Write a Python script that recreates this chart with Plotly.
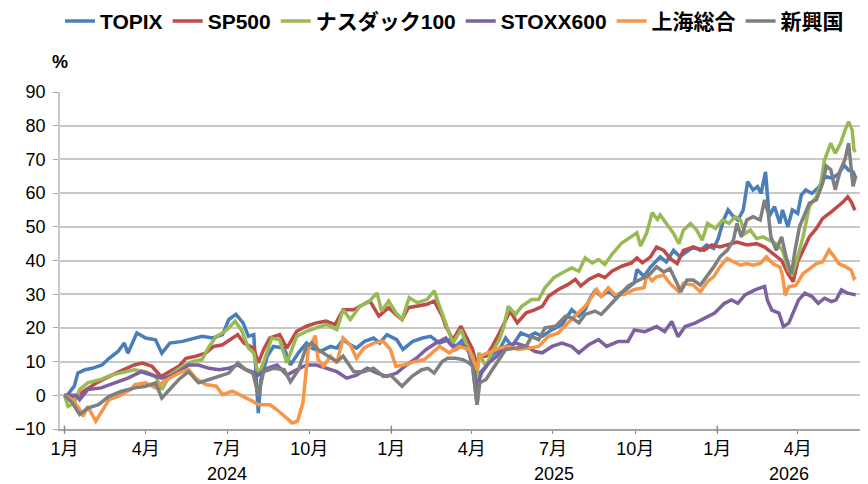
import plotly.graph_objects as go

# values (% change since start of 2024)
topix_dates = ["2024-01-01", "2024-01-04", "2024-01-12", "2024-01-16", "2024-01-24", "2024-02-01", "2024-02-12",
               "2024-02-20", "2024-03-01", "2024-03-08", "2024-03-12", "2024-03-22", "2024-04-01", "2024-04-12",
               "2024-04-19", "2024-04-28", "2024-05-12", "2024-05-23", "2024-06-03", "2024-06-15", "2024-06-26",
               "2024-07-03", "2024-07-11", "2024-07-19", "2024-07-25", "2024-07-31", "2024-08-05", "2024-08-08",
               "2024-08-15", "2024-08-22", "2024-09-03", "2024-09-10", "2024-09-19", "2024-09-28", "2024-10-04",
               "2024-10-13", "2024-10-25", "2024-11-01", "2024-11-08", "2024-11-16", "2024-11-23", "2024-12-02",
               "2024-12-12", "2024-12-19", "2024-12-27", "2025-01-07", "2025-01-14", "2025-01-25", "2025-02-05",
               "2025-02-14", "2025-02-24", "2025-03-07", "2025-03-14", "2025-03-22", "2025-03-29", "2025-04-02",
               "2025-04-07", "2025-04-10", "2025-04-17", "2025-04-24", "2025-05-02", "2025-05-09", "2025-05-16",
               "2025-05-26", "2025-06-04", "2025-06-11", "2025-06-19", "2025-06-30", "2025-07-11", "2025-07-22",
               "2025-07-30", "2025-08-06", "2025-08-12", "2025-08-17", "2025-08-24", "2025-09-01", "2025-09-08",
               "2025-09-19", "2025-09-30", "2025-10-03", "2025-10-11", "2025-10-18", "2025-10-29", "2025-11-05",
               "2025-11-13", "2025-11-20", "2025-11-28", "2025-12-05", "2025-12-13", "2025-12-20", "2025-12-28",
               "2026-01-02", "2026-01-08", "2026-01-13", "2026-01-19", "2026-01-24", "2026-01-30", "2026-02-04",
               "2026-02-10", "2026-02-15", "2026-02-19", "2026-02-24", "2026-02-28", "2026-03-06", "2026-03-12",
               "2026-03-15", "2026-03-21", "2026-03-26", "2026-04-01", "2026-04-05", "2026-04-10", "2026-04-17",
               "2026-04-25", "2026-05-02", "2026-05-10", "2026-05-17", "2026-05-23", "2026-05-28", "2026-06-02",
               "2026-06-05"]
topix_vals = [0, 0, 2.7, 6.6, 7.6, 8, 9, 11, 13, 15.5, 12.5, 18.5, 17, 16.5, 12.5, 15.5, 16, 16.7, 17.5, 17, 18,
              22.5, 24, 21.5, 17.5, 18, -5.3, 4.7, 11.6, 14.5, 14, 9, 12.6, 15.5, 14, 13, 14.5, 14, 16.5, 15, 14,
              16, 17, 15.5, 18, 16.5, 13.6, 16, 17, 17.5, 15.5, 16.5, 14.5, 16.5, 12.6, 8.6, -2.8, 6.6, 8.6, 12,
              13.6, 17, 14.5, 18.5, 17.5, 18.5, 17.5, 19.5, 21, 25.4, 23.5, 25.4, 29, 31, 29.4, 31, 29.4, 31, 33.4,
              37.3, 35.3, 38, 41.1, 39.6, 43, 41.1, 42.6, 44, 43, 44.6, 43.6, 46.5, 52, 55, 53, 52, 55, 63.4, 60.9,
              61.9, 59.9, 66.3, 53, 56, 51, 55, 50, 55, 54, 59.4, 60.9, 59.9, 61.9, 64.9, 64.4, 65.8, 68.3, 66.8,
              66.3, 64.4]

sp500_dates = ["2024-01-01", "2024-01-14", "2024-01-25", "2024-02-08", "2024-02-23", "2024-03-08", "2024-03-19",
               "2024-03-28", "2024-04-08", "2024-04-18", "2024-04-27", "2024-05-08", "2024-05-16", "2024-05-27",
               "2024-06-07", "2024-06-16", "2024-06-26", "2024-07-07", "2024-07-13", "2024-07-20", "2024-07-31",
               "2024-08-05", "2024-08-11", "2024-08-18", "2024-08-29", "2024-09-06", "2024-09-17", "2024-09-28",
               "2024-10-09", "2024-10-20", "2024-10-30", "2024-11-08", "2024-11-20", "2024-12-01", "2024-12-08",
               "2024-12-18", "2024-12-29", "2025-01-06", "2025-01-13", "2025-01-20", "2025-01-31", "2025-02-10",
               "2025-02-18", "2025-02-27", "2025-03-03", "2025-03-11", "2025-03-20", "2025-03-26", "2025-04-02",
               "2025-04-07", "2025-04-09", "2025-04-17", "2025-04-24", "2025-05-02", "2025-05-09", "2025-05-14",
               "2025-05-22", "2025-06-01", "2025-06-11", "2025-06-19", "2025-06-26", "2025-07-07", "2025-07-18",
               "2025-07-26", "2025-08-01", "2025-08-10", "2025-08-21", "2025-08-28", "2025-09-05", "2025-09-16",
               "2025-09-27", "2025-10-03", "2025-10-09", "2025-10-18", "2025-10-25", "2025-11-02", "2025-11-09",
               "2025-11-17", "2025-11-24", "2025-12-05", "2025-12-17", "2025-12-26", "2026-01-04", "2026-01-15",
               "2026-01-23", "2026-02-03", "2026-02-14", "2026-02-23", "2026-03-04", "2026-03-14", "2026-03-21",
               "2026-03-27", "2026-04-01", "2026-04-07", "2026-04-14", "2026-04-22", "2026-04-29", "2026-05-09",
               "2026-05-16", "2026-05-22", "2026-05-27", "2026-05-31", "2026-06-04"]
sp500_vals = [0, -0.5, 1.7, 4, 6, 7.6, 9, 9.6, 8.6, 5.6, 7, 8.6, 11, 11.6, 12.5, 14.5, 15, 17, 18, 15.5, 14, 9.6,
              13.6, 17, 18, 14, 19, 20.5, 21.5, 22, 21, 25.4, 25.4, 27, 28, 23.5, 26, 24, 22.5, 26, 26.5, 27, 28,
              23.5, 20.5, 16.5, 20.5, 17.5, 13.6, 8.6, 11.6, 11.6, 14.5, 18.5, 22, 25, 21.5, 24.5, 25.4, 26.4, 29.4,
              31.4, 32.9, 34.4, 32.4, 34.4, 35.8, 34.9, 36.8, 38.3, 39.3, 40.8, 39.3, 41, 44, 43, 40.6, 39.1, 43, 44,
              43, 44.6, 44, 45, 45.5, 44.6, 45, 44, 42, 40, 36.1, 33.7, 39.6, 43, 47, 49.5, 52.5, 54.5, 56, 57.4,
              58.9, 57.4, 54.9]

nasdaq_dates = ["2024-01-01", "2024-01-05", "2024-01-12", "2024-01-18", "2024-01-27", "2024-02-11", "2024-02-22",
                "2024-03-08", "2024-03-19", "2024-04-01", "2024-04-12", "2024-04-19", "2024-04-28", "2024-05-12",
                "2024-05-23", "2024-06-03", "2024-06-11", "2024-06-19", "2024-06-26", "2024-07-03", "2024-07-10",
                "2024-07-17", "2024-07-25", "2024-07-31", "2024-08-05", "2024-08-12", "2024-08-20", "2024-08-29",
                "2024-09-06", "2024-09-17", "2024-09-28", "2024-10-09", "2024-10-20", "2024-11-01", "2024-11-08",
                "2024-11-16", "2024-11-27", "2024-12-06", "2024-12-16", "2024-12-21", "2024-12-29", "2025-01-06",
                "2025-01-13", "2025-01-21", "2025-01-30", "2025-02-10", "2025-02-18", "2025-02-24", "2025-03-03",
                "2025-03-11", "2025-03-20", "2025-03-27", "2025-04-02", "2025-04-07", "2025-04-09", "2025-04-17",
                "2025-04-24", "2025-05-02", "2025-05-07", "2025-05-12", "2025-05-20", "2025-05-27", "2025-06-07",
                "2025-06-15", "2025-06-22", "2025-07-02", "2025-07-11", "2025-07-22", "2025-07-30", "2025-08-06",
                "2025-08-14", "2025-08-21", "2025-08-28", "2025-09-05", "2025-09-16", "2025-09-27", "2025-10-03",
                "2025-10-07", "2025-10-14", "2025-10-20", "2025-10-26", "2025-10-29", "2025-11-05", "2025-11-13",
                "2025-11-19", "2025-11-24", "2025-12-02", "2025-12-09", "2025-12-15", "2025-12-21", "2025-12-30",
                "2026-01-07", "2026-01-14", "2026-01-21", "2026-01-27", "2026-02-01", "2026-02-07", "2026-02-14",
                "2026-02-21", "2026-02-28", "2026-03-08", "2026-03-15", "2026-03-22", "2026-03-26", "2026-04-01",
                "2026-04-07", "2026-04-14", "2026-04-22", "2026-04-27", "2026-05-01", "2026-05-08", "2026-05-13",
                "2026-05-19", "2026-05-24", "2026-05-28", "2026-06-01", "2026-06-03", "2026-06-05"]
nasdaq_vals = [0, -3.3, -2.3, 1.7, 3.7, 4.7, 6, 7, 7.6, 7, 5.6, 1.7, 6, 8.6, 10, 10.6, 14.5, 17.5, 18.5, 20, 22,
               19.5, 14, 12.5, 6, 10.6, 17, 16.5, 9.6, 17.5, 19, 20, 21, 19.5, 25.4, 22.5, 26.5, 27.5, 30.4, 25, 28,
               24.5, 22.5, 29, 27.5, 28.4, 31, 26.4, 21.5, 15.5, 19.5, 14.5, 11.6, 5.6, 12.6, 8.6, 13, 16.5, 20.5,
               26.4, 24, 26.4, 28.4, 28.4, 31.9, 34.9, 36.3, 37.8, 36.8, 40.8, 39.3, 40.3, 38.8, 41.8, 45.2, 47.2,
               48.2, 44.3, 48.2, 54.2, 52.2, 53.5, 51, 48, 45, 49, 51, 49, 46, 51, 49.5, 52, 51, 53, 52, 48, 49, 46.5,
               47, 46, 45, 43, 37, 36, 41, 47, 56, 59, 63, 69.8, 74.8, 71.8, 74.8, 78.7, 81.2, 78.7, 72.8, 72.3]

stoxx_dates = ["2024-01-01", "2024-01-14", "2024-01-18", "2024-01-27", "2024-02-11", "2024-02-26", "2024-03-12",
               "2024-03-27", "2024-04-08", "2024-04-19", "2024-04-28", "2024-05-08", "2024-05-19", "2024-05-30",
               "2024-06-11", "2024-06-22", "2024-07-03", "2024-07-13", "2024-07-22", "2024-08-02", "2024-08-05",
               "2024-08-15", "2024-08-26", "2024-09-06", "2024-09-17", "2024-09-28", "2024-10-09", "2024-10-20",
               "2024-11-01", "2024-11-12", "2024-11-23", "2024-12-05", "2024-12-16", "2024-12-27", "2025-01-07",
               "2025-01-18", "2025-01-29", "2025-02-09", "2025-02-20", "2025-03-03", "2025-03-07", "2025-03-14",
               "2025-03-22", "2025-03-31", "2025-04-07", "2025-04-12", "2025-04-20", "2025-04-29", "2025-05-09",
               "2025-05-20", "2025-06-01", "2025-06-11", "2025-06-19", "2025-06-30", "2025-07-11", "2025-07-22",
               "2025-07-30", "2025-08-10", "2025-08-21", "2025-08-30", "2025-09-12", "2025-09-23", "2025-09-30",
               "2025-10-12", "2025-10-25", "2025-11-03", "2025-11-11", "2025-11-18", "2025-11-26", "2025-12-07",
               "2025-12-18", "2025-12-29", "2026-01-09", "2026-01-17", "2026-01-24", "2026-02-01", "2026-02-12",
               "2026-02-23", "2026-02-26", "2026-03-03", "2026-03-11", "2026-03-16", "2026-03-22", "2026-03-27",
               "2026-04-02", "2026-04-09", "2026-04-17", "2026-04-24", "2026-05-01", "2026-05-09", "2026-05-14",
               "2026-05-20", "2026-05-27", "2026-06-05"]
stoxx_vals = [0, 0, -1.3, 1.7, 2.2, 3.7, 5.1, 7, 6, 5.1, 5.6, 7, 9, 9, 8, 7.6, 8, 9, 7.6, 6.6, 6, 8, 9, 6, 7.6, 9,
              9, 8, 7, 5.1, 6, 8, 6.6, 5.6, 6.6, 9, 11, 13.6, 15.5, 17, 15.5, 13.6, 15, 12.6, 2.7, 6.6, 9.6, 11.6,
              14.5, 15.5, 14.5, 13, 12.6, 14.5, 15.5, 14.5, 12.6, 15, 16.5, 14.5, 16, 16, 19.4, 18.9, 20.4, 18.9,
              21.9, 17.4, 20.4, 21.4, 22.9, 24.4, 27.3, 28.3, 27.3, 29.8, 31.3, 32.3, 28.3, 25.3, 24.4, 20.4, 21.4,
              24.4, 28.3, 30.3, 29.3, 27.3, 28.8, 27.8, 28.3, 31.3, 30.3, 29.8]

shanghai_dates = ["2024-01-01", "2024-01-10", "2024-01-17", "2024-01-22", "2024-01-27", "2024-02-05", "2024-02-20",
                  "2024-03-01", "2024-03-15", "2024-03-20", "2024-04-01", "2024-04-12", "2024-04-19", "2024-05-01",
                  "2024-05-12", "2024-05-19", "2024-05-27", "2024-06-07", "2024-06-19", "2024-06-26", "2024-07-07",
                  "2024-07-19", "2024-07-30", "2024-08-05", "2024-08-18", "2024-08-26", "2024-09-03", "2024-09-12",
                  "2024-09-18", "2024-09-24", "2024-09-30", "2024-10-08", "2024-10-11", "2024-10-17", "2024-10-25",
                  "2024-11-01", "2024-11-08", "2024-11-16", "2024-11-23", "2024-12-01", "2024-12-12", "2024-12-23",
                  "2024-12-31", "2025-01-06", "2025-01-15", "2025-01-27", "2025-02-07", "2025-02-18", "2025-02-24",
                  "2025-03-07", "2025-03-18", "2025-03-29", "2025-04-07", "2025-04-10", "2025-04-20", "2025-05-02",
                  "2025-05-12", "2025-05-23", "2025-06-04", "2025-06-15", "2025-06-26", "2025-07-07", "2025-07-18",
                  "2025-07-26", "2025-08-06", "2025-08-14", "2025-08-19", "2025-08-24", "2025-09-01", "2025-09-08",
                  "2025-09-19", "2025-09-30", "2025-10-11", "2025-10-14", "2025-10-20", "2025-10-25", "2025-11-02",
                  "2025-11-09", "2025-11-19", "2025-11-24", "2025-12-05", "2025-12-13", "2025-12-21", "2025-12-28",
                  "2026-01-04", "2026-01-12", "2026-01-19", "2026-01-27", "2026-02-03", "2026-02-10", "2026-02-18",
                  "2026-02-25", "2026-03-04", "2026-03-12", "2026-03-15", "2026-03-18", "2026-03-22", "2026-03-30",
                  "2026-04-07", "2026-04-14", "2026-04-22", "2026-04-29", "2026-05-06", "2026-05-12", "2026-05-17",
                  "2026-05-25", "2026-05-31", "2026-06-03", "2026-06-05"]
shanghai_vals = [0, -1.3, -3.8, -6.2, -3.3, -7.7, -1.3, -0.3, 1.7, 3.2, 3.7, 2.2, 3.7, 5.6, 7, 7.6, 5.1, 3.2, 2.7,
                 0.2, 1.2, -0.3, -1.8, -2.8, -2.8, -4.3, -6.2, -8.2, -7.7, -2.3, 13.6, 17.7, 10.6, 8.6, 11.6, 9.6,
                 17, 15, 11, 14, 15.5, 16, 13.6, 8.6, 9, 10, 10.6, 13, 14.5, 12.6, 14.5, 13.6, 7.6, 11.6, 12.6, 14,
                 14.5, 13.6, 14, 14.5, 17.5, 18.5, 21.5, 23.5, 26.4, 29.4, 31.4, 29.4, 31.9, 29.9, 29.9, 31.4, 31.9,
                 35.8, 34, 35.2, 35.6, 33.2, 30.7, 33.2, 32.7, 30.7, 33.7, 35.2, 38.1, 40.6, 39.6, 38.6, 39.1, 38.6,
                 39.1, 41.1, 39.1, 38.1, 35.6, 29.7, 32.2, 32.7, 36.1, 37.6, 39.1, 39.6, 43.1, 41.1, 39.1, 38.1, 37.1,
                 34.7, 35.2]

emerging_dates = ["2024-01-01", "2024-01-10", "2024-01-18", "2024-01-27", "2024-02-08", "2024-02-20", "2024-03-05",
                  "2024-03-20", "2024-04-01", "2024-04-12", "2024-04-19", "2024-04-28", "2024-05-08", "2024-05-19",
                  "2024-05-30", "2024-06-11", "2024-06-22", "2024-07-03", "2024-07-13", "2024-07-22", "2024-07-30",
                  "2024-08-05", "2024-08-11", "2024-08-22", "2024-09-03", "2024-09-10", "2024-09-19", "2024-09-28",
                  "2024-10-04", "2024-10-11", "2024-10-20", "2024-11-01", "2024-11-08", "2024-11-20", "2024-12-01",
                  "2024-12-12", "2024-12-23", "2024-12-31", "2025-01-13", "2025-01-24", "2025-02-04", "2025-02-11",
                  "2025-02-18", "2025-02-27", "2025-03-05", "2025-03-14", "2025-03-22", "2025-03-29", "2025-04-02",
                  "2025-04-07", "2025-04-10", "2025-04-17", "2025-04-24", "2025-05-02", "2025-05-09", "2025-05-20",
                  "2025-06-01", "2025-06-07", "2025-06-15", "2025-06-22", "2025-07-04", "2025-07-15", "2025-07-22",
                  "2025-07-30", "2025-08-06", "2025-08-17", "2025-08-24", "2025-08-29", "2025-09-05", "2025-09-14",
                  "2025-09-23", "2025-10-03", "2025-10-14", "2025-10-18", "2025-10-25", "2025-11-02", "2025-11-09",
                  "2025-11-17", "2025-11-21", "2025-11-28", "2025-12-05", "2025-12-13", "2025-12-21", "2025-12-28",
                  "2026-01-04", "2026-01-12", "2026-01-19", "2026-01-23", "2026-01-28", "2026-02-03", "2026-02-10",
                  "2026-02-18", "2026-02-23", "2026-02-27", "2026-03-02", "2026-03-08", "2026-03-14", "2026-03-19",
                  "2026-03-25", "2026-03-29", "2026-04-03", "2026-04-09", "2026-04-14", "2026-04-22", "2026-04-29",
                  "2026-05-03", "2026-05-08", "2026-05-13", "2026-05-19", "2026-05-24", "2026-05-28", "2026-05-31",
                  "2026-06-02", "2026-06-05"]
emerging_vals = [0, -2.3, -5.7, -3.8, -2.8, -0.3, 1.2, 2.2, 2.7, 3.7, -0.8, 1.7, 4.7, 7, 3.7, 4.7, 5.6, 6.6, 9.6,
                 7.6, 6.6, 0, 7, 8, 7.6, 4, 7.6, 14.5, 15.5, 13.6, 12, 10, 11.6, 7, 7, 8, 5.6, 6, 2.7, 5.6, 7.6, 8,
                 6.6, 10, 11, 11, 10.6, 9.6, 8.6, -2.8, 3.7, 4.7, 7.6, 10.6, 13.6, 14, 14.5, 17.5, 16.5, 20, 20.5,
                 23.5, 23, 21.5, 24, 25, 24, 25.4, 27.4, 29.9, 32.4, 33.9, 35.3, 36.1, 38.1, 36.6, 37.6, 33.2, 30.7,
                 34.2, 34.2, 32.7, 35.6, 38.1, 41.1, 43, 46, 51, 47, 52, 53, 52, 58, 54, 47, 43, 47, 41, 36, 43, 50,
                 54, 57, 58, 63, 68, 67, 61, 67, 70, 74.8, 67, 62, 65]

tick_dates = ["2024-01-01", "2024-04-01", "2024-07-01", "2024-10-01", "2025-01-01", "2025-04-01",
              "2025-07-01", "2025-10-01", "2026-01-01", "2026-04-01"]
tick_labels = ["1月", "4月", "7月", "10月", "1月", "4月", "7月", "10月", "1月", "4月"]
year_starts = ["2024-01-01", "2025-01-01", "2026-01-01"]
year_mids = ["2024-07-01", "2025-07-02", "2026-03-22"]
year_labels = ["2024", "2025", "2026"]

series = [
    ("TOPIX", topix_dates, topix_vals, "#4A7EBB"),
    ("SP500", sp500_dates, sp500_vals, "#BE4B48"),
    ("ナスダック100", nasdaq_dates, nasdaq_vals, "#98B954"),
    ("STOXX600", stoxx_dates, stoxx_vals, "#7D60A0"),
    ("上海総合", shanghai_dates, shanghai_vals, "#F79646"),
    ("新興国", emerging_dates, emerging_vals, "#7F7F7F"),
]

font_family = "Liberation Sans, Arial, Noto Sans CJK JP, sans-serif"

fig = go.Figure()
for name, d, v, c in series:
    fig.add_trace(go.Scatter(x=d, y=v, name=name, mode="lines",
                             line=dict(color=c, width=3.5)))

# longer tick marks at year boundaries
for ys in year_starts:
    fig.add_shape(type="line", xref="x", yref="paper", x0=ys, x1=ys, y0=-0.012, y1=0.01,
                  line=dict(color="#888888", width=1.5))

for ym, yl in zip(year_mids, year_labels):
    fig.add_annotation(x=ym, y=0, xref="x", yref="paper", yanchor="middle", yshift=-45, text=yl,
                       showarrow=False, font=dict(size=18, color="black"))

fig.add_annotation(x=0, y=1, xref="paper", yref="paper", xanchor="center", yanchor="middle",
                   yshift=30, text="<b>%</b>", showarrow=False, font=dict(size=18, color="black"))

# the page body adds an 8px margin, so the figure is laid out 8px smaller
fig.update_layout(
    width=860, height=476,
    margin=dict(l=52, r=6, t=84, b=55, autoexpand=False),
    plot_bgcolor="white", paper_bgcolor="white",
    font=dict(family=font_family, size=18, color="black"),
    showlegend=True,
    legend=dict(orientation="h", x=0.0, xref="paper", xanchor="left", y=1.21, yref="paper",
                yanchor="middle", font=dict(size=21, color="black", weight="bold"), itemwidth=30,
                tracegroupgap=0, bgcolor="rgba(0,0,0,0)"),
    xaxis=dict(type="date", range=["2023-12-27", "2026-06-12"], tickvals=tick_dates,
               ticktext=tick_labels, ticks="outside", ticklen=3, tickcolor="#888888",
               showgrid=False, showline=True, linecolor="#a6a6a6", linewidth=1.5,
               zeroline=False, tickfont=dict(size=18)),
    yaxis=dict(range=[-10, 90], dtick=10, ticks="outside", ticklen=5, tickcolor="#a6a6a6",
               showgrid=True, gridcolor="#c8c8c8", gridwidth=1.5, showline=True,
               linecolor="#c8c8c8", linewidth=1.5, zeroline=False, tickfont=dict(size=18),
               ticklabelstandoff=4),
)

fig.write_html("out.html")
